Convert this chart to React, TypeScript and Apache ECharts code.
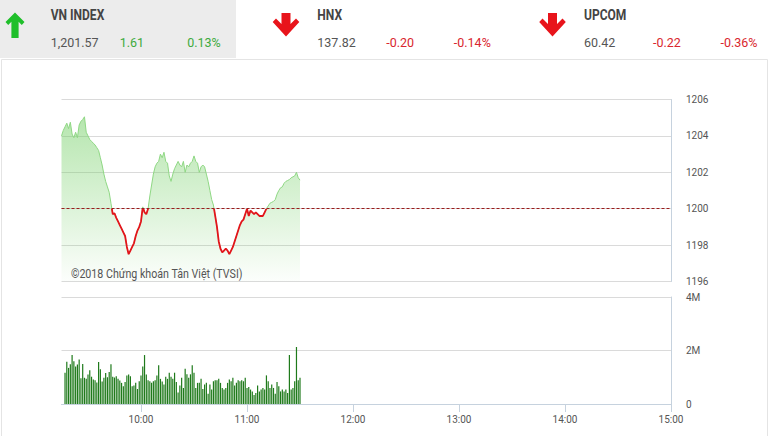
import React, { useEffect, useRef } from 'react';
import * as echarts from 'echarts';

// ---- Data ----
const SESSION_START = '9:15';
const SESSION_END = '15:00';
const TIME_TICKS = ['10:00', '11:00', '12:00', '13:00', '14:00', '15:00'];

// VN-Index, one value per minute from 9:15
const PRICE = [
  1204.0, 1204.3, 1204.5, 1204.7, 1204.4, 1204.75, 1204.1, 1203.9, 1204.2, 1203.9,
  1204.6, 1204.8, 1204.9, 1205.05, 1204.2, 1204.0, 1203.8, 1203.7, 1203.6, 1203.5,
  1203.35, 1203.2, 1202.8, 1202.4, 1201.9, 1201.5, 1201.2, 1200.9, 1200.3, 1199.7,
  1199.75, 1199.5, 1199.3, 1199.1, 1198.9, 1198.7, 1198.5, 1197.9, 1197.5, 1197.7,
  1197.9, 1198.1, 1198.5, 1198.8, 1199.0, 1199.3, 1200.1, 1199.8, 1199.7, 1200.0,
  1200.7, 1201.3, 1201.9, 1202.3, 1202.5, 1202.6, 1203.0, 1202.8, 1203.1, 1202.6,
  1202.5, 1201.8, 1201.5, 1201.9, 1202.2, 1202.4, 1202.6, 1202.4, 1202.3, 1202.6,
  1202.0, 1202.4, 1202.3, 1202.5, 1202.6, 1202.9, 1202.6, 1202.5, 1202.0, 1202.3,
  1202.4, 1202.3, 1201.9, 1201.5, 1201.0, 1200.5, 1200.2, 1199.6, 1199.0, 1198.2,
  1197.8, 1197.6, 1197.7, 1197.8, 1197.7, 1197.5, 1197.7, 1197.9, 1198.2, 1198.5,
  1198.8, 1199.1, 1199.3, 1199.4, 1199.7, 1200.0, 1199.6, 1199.9, 1199.8, 1199.7,
  1199.8, 1199.7, 1199.6, 1199.6, 1199.6, 1199.8, 1200.0, 1200.15, 1200.3, 1200.35,
  1200.4, 1200.5, 1200.8, 1201.0, 1201.15, 1201.2, 1201.4, 1201.5, 1201.55, 1201.6,
  1201.7, 1201.75, 1201.8, 1202.0, 1201.7, 1201.57,
];

// Volume in millions, one bar per minute starting at minute 2 after 9:15
const VOLUME_FIRST_MINUTE = 2;
const VOLUME_M = [
  1.17, 1.58, 1.35, 1.49, 1.83, 1.6, 1.4, 1.48, 1.66,
  0.96, 1.5, 0.98, 0.94, 1.1, 1.26, 1.02, 0.92, 0.89, 0.8,
  1.57, 1.3, 0.84, 0.98, 1.16, 1.0, 1.2, 1.49, 1.02,
  0.99, 1.04, 0.94, 0.88, 0.79, 0.66, 0.82, 1.07, 1.1, 1.04,
  0.66, 0.69, 0.79, 0.56, 0.85, 1.07, 1.4, 1.83, 1.1,
  0.89, 0.85, 0.79, 0.85, 0.89, 1.07, 1.45, 0.94, 0.84, 0.73,
  1.02, 0.94, 1.17, 1.02, 0.94, 1.17, 0.82,
  0.43, 0.69, 0.98, 0.6, 1.32, 1.11, 0.98, 1.11, 1.45, 1.17,
  0.6, 0.79, 0.79, 0.94, 0.56, 0.73, 0.79, 0.38, 0.73,
  0.54, 0.85, 0.89, 0.89, 0.94, 0.79, 0.6, 0.54, 0.6,
  0.79, 0.92, 0.85, 0.98, 0.69, 0.79, 0.89, 0.85, 0.89, 0.85,
  0.98, 0.6, 0.64, 0.54, 0.47, 0.34, 0.41, 0.69, 0.47,
  0.54, 0.6, 0.54, 1.07, 0.85, 0.6, 0.73, 0.6, 0.38,
  0.82, 0.66, 0.47, 0.54, 0.47, 0.54, 0.41, 1.83, 0.54, 0.6,
  0.85, 2.13, 0.89, 0.98,
];

const PRICE_REF = 1200;
const PRICE_MIN = 1196;
const PRICE_MAX = 1206;
const PRICE_STEP = 2;
const VOL_MAX = 4e6;
const VOL_STEP = 2e6;

// Header quotes
const INDEX_NAMES = ['VN INDEX', 'HNX', 'UPCOM'];
const INDEX_VALUES = ['1,201.57', '137.82', '60.42'];
const INDEX_CHANGES = ['1.61', '-0.20', '-0.22'];
const INDEX_PCTS = ['0.13%', '-0.14%', '-0.36%'];
const INDEX_UP = [true, false, false];

const WATERMARK = '©2018 Chứng khoán Tân Việt (TVSI)';

const toMin = (s: string) => {
  const [h, m] = s.split(':').map(Number);
  return h * 60 + m;
};
const START = toMin(SESSION_START);
const END = toMin(SESSION_END) - START;
const TICK_VALUES = TIME_TICKS.map((t) => toMin(t) - START);

const FONT = 'Roboto, "Noto Sans", sans-serif';
const GREEN = '#3daa3d';
const RED = '#d9262e';

function upArrow(cx: number, color: string) {
  return {
    type: 'polygon',
    shape: {
      points: [
        [cx, 12.5], [cx + 9.5, 22], [cx + 6.8, 25], [cx + 3.6, 21.8], [cx + 3.6, 38],
        [cx - 3.6, 38], [cx - 3.6, 21.8], [cx - 6.8, 25], [cx - 9.5, 22],
      ],
    },
    style: { fill: color },
  };
}
function downArrow(cx: number, color: string) {
  return {
    type: 'polygon',
    shape: {
      points: [
        [cx - 4.5, 13], [cx + 4.5, 13], [cx + 4.5, 24], [cx + 10, 18.5], [cx + 13.3, 22],
        [cx, 36.5], [cx - 13.3, 22], [cx - 10, 18.5], [cx - 4.5, 24],
      ],
    },
    style: { fill: color },
  };
}

const noSplit = { show: false, showMinLine: false, showMaxLine: false };

export default function App() {
  const ref = useRef<HTMLDivElement>(null);

  useEffect(() => {
    if (!ref.current) return;
    const chart = echarts.init(ref.current, undefined, { renderer: 'svg' });

    const cols = [50.7, 317.3, 584];
    const arrowsX = [15, 286, 552.5];
    const header: any[] = [
      { type: 'rect', shape: { x: 0, y: 0, width: 236, height: 58 }, style: { fill: '#ececec' }, z: 0 },
      { type: 'rect', shape: { x: 1.5, y: 59.5, width: 766, height: 400 }, style: { fill: 'none', stroke: '#e4e4e4', lineWidth: 1 }, z: 0 },
    ];
    INDEX_NAMES.forEach((name, i) => {
      const x = cols[i];
      const col = INDEX_UP[i] ? GREEN : RED;
      header.push(INDEX_UP[i] ? upArrow(arrowsX[i], '#1fbf2a') : downArrow(arrowsX[i], '#e8141b'));
      header.push({
        type: 'text', x, y: 15.5, scaleX: 0.86,
        style: { text: name, font: `bold 14px ${FONT}`, fill: '#444', align: 'left', verticalAlign: 'middle' },
      });
      header.push({
        type: 'text', x, y: 42,
        style: { text: INDEX_VALUES[i], font: `12.5px ${FONT}`, fill: '#555', align: 'left', verticalAlign: 'middle' },
      });
      header.push({
        type: 'text', x: x + 69, y: 42,
        style: { text: INDEX_CHANGES[i], font: `12.5px ${FONT}`, fill: col, align: 'left', verticalAlign: 'middle' },
      });
      header.push({
        type: 'text', x: x + 136.5, y: 42,
        style: { text: INDEX_PCTS[i], font: `12.5px ${FONT}`, fill: col, align: 'left', verticalAlign: 'middle' },
      });
    });
    header.push({
      type: 'text', x: 71, y: 273.5, z: 10, scaleX: 0.89,
      style: { text: WATERMARK, font: `12px ${FONT}`, fill: '#555', align: 'left', verticalAlign: 'middle' },
    });

    const priceData = PRICE.map((v, i) => [i, v]);
    const volData = VOLUME_M.map((v, i) => [i + VOLUME_FIRST_MINUTE, Math.round(v * 1e6)]);

    const axisBlue = '#c6d2de';
    const gridGray = '#dadada';

    chart.setOption({
      animation: false,
      textStyle: { fontFamily: FONT },
      graphic: header,
      grid: [
        { show: false, left: 61.5, right: 98, top: 99.5, height: 182 },
        { show: false, left: 61.5, right: 98, top: 297, height: 107 },
      ],
      xAxis: [
        {
          type: 'value', gridIndex: 0, min: 0, max: END, show: false,
        },
        {
          type: 'value', gridIndex: 1, min: 0, max: END,
          axisLine: { show: true, onZero: false, lineStyle: { color: axisBlue } },
          axisTick: { show: true, length: 8, customValues: TICK_VALUES, lineStyle: { color: axisBlue } },
          axisLabel: {
            show: true, customValues: TICK_VALUES, color: '#555', fontSize: 10, margin: 10,
            formatter: (v: number) => TIME_TICKS[TICK_VALUES.indexOf(v)] ?? '',
          },
          splitLine: noSplit, minorSplitLine: { show: false }, splitArea: { show: false },
        },
      ],
      yAxis: [
        {
          type: 'value', gridIndex: 0, position: 'right', min: PRICE_MIN, max: PRICE_MAX, interval: PRICE_STEP,
          axisLine: { show: true, onZero: false, lineStyle: { color: axisBlue } }, axisTick: { show: false },
          axisLabel: { color: '#555', fontSize: 10, margin: 15, formatter: (v: number) => String(v) },
          splitLine: { show: true, lineStyle: { color: gridGray } },
        },
        {
          type: 'value', gridIndex: 1, position: 'right', min: 0, max: VOL_MAX, interval: VOL_STEP,
          axisLine: { show: true, onZero: false, lineStyle: { color: axisBlue } }, axisTick: { show: false },
          axisLabel: { color: '#555', fontSize: 10, margin: 15, formatter: (v: number) => (v === 0 ? '0' : v / 1e6 + 'M') },
          splitLine: { show: true, lineStyle: { color: gridGray } },
        },
      ],
      visualMap: {
        type: 'piecewise', show: false, seriesIndex: 1, dimension: 1,
        pieces: [
          { gte: PRICE_REF - 100, lt: PRICE_REF, color: '#e3141b' },
          { gte: PRICE_REF, lte: PRICE_REF + 100, color: 'rgba(0,0,0,0)' },
        ],
        outOfRange: { color: 'rgba(0,0,0,0)' },
      },
      series: [
        {
          type: 'line', xAxisIndex: 0, yAxisIndex: 0, data: priceData,
          showSymbol: false, symbol: 'none',
          lineStyle: { color: '#8fd884', width: 1 },
          areaStyle: {
            origin: 'start',
            color: new echarts.graphic.LinearGradient(0, 0, 0, 1, [
              { offset: 0, color: 'rgba(110,205,95,0.72)' },
              { offset: 1, color: 'rgba(110,205,95,0.03)' },
            ]),
          },
          markLine: {
            silent: true, symbol: 'none', label: { show: false },
            lineStyle: { color: '#9b1c1c', type: [3, 2], width: 1 },
            data: [{ yAxis: PRICE_REF }],
          },
          z: 2,
        },
        {
          type: 'line', xAxisIndex: 0, yAxisIndex: 0, data: priceData,
          showSymbol: false, symbol: 'none',
          lineStyle: { width: 1.8 },
          z: 4,
        },
        {
          type: 'bar', xAxisIndex: 1, yAxisIndex: 1, data: volData,
          barWidth: 1.2, itemStyle: { color: '#1f7a1b' },
        },
      ],
    });

    return () => chart.dispose();
  }, []);

  return (
    <div
      ref={ref}
      style={{ position: 'absolute', left: 0, top: 0, width: 769, height: 436, background: '#fff' }}
    />
  );
}
